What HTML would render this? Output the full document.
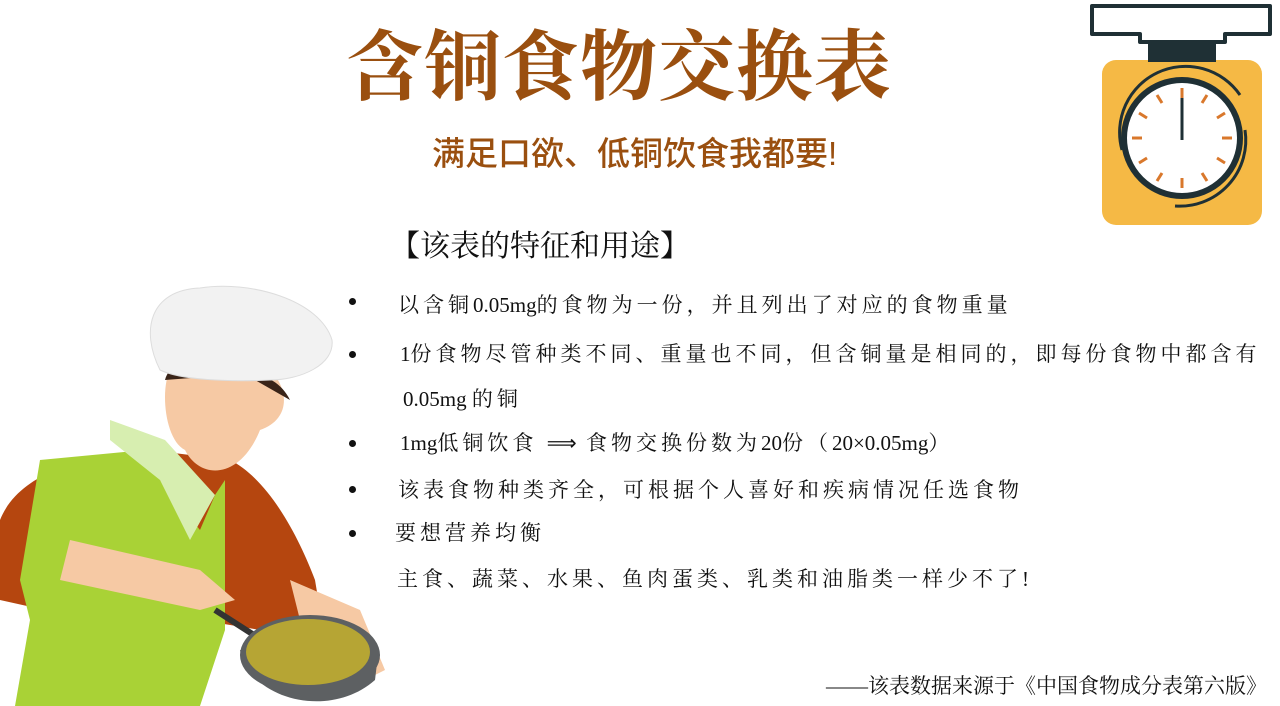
<!DOCTYPE html>
<html><head><meta charset="utf-8">
<style>
html,body{margin:0;padding:0;background:#fff;}
#slide{position:relative;width:1280px;height:706px;overflow:hidden;background:#fff;font-family:"Liberation Serif","Noto Serif CJK SC",serif;}
.abs{position:absolute;white-space:nowrap;}
#title{left:346px;top:18px;font-size:77px;color:#9a4f0f;font-weight:bold;font-family:"Liberation Serif","Noto Serif CJK SC",serif;letter-spacing:1px;line-height:100px;}
#sub{left:432px;top:132px;font-size:33px;color:#9a4f0f;font-weight:500;font-family:"Liberation Sans","Noto Sans CJK SC",sans-serif;line-height:44px;}
#head{left:390px;top:225px;font-size:30px;color:#111;line-height:44px;}
.line{font-size:21px;color:#111;letter-spacing:4px;line-height:30px;}
.l{letter-spacing:0;}
.dot{position:absolute;width:7px;height:7px;border-radius:50%;background:#111;left:349px;}
#foot{left:826px;top:672px;font-size:21px;color:#111;line-height:28px;}
</style></head><body>
<div id="slide">
<div id="title" class="abs">含铜食物交换表</div>
<div id="sub" class="abs">满足口欲、低铜饮食我都要!</div>
<div id="head" class="abs">【该表的特征和用途】</div>

<div class="dot" style="top:298px"></div>
<div class="abs line" style="left:398px;top:290px">以含铜<span class="l">0.05mg</span>的食物为一份，并且列出了对应的食物重量</div>
<div class="dot" style="top:351px"></div>
<div class="abs line" style="left:400px;top:339px"><span class="l">1</span>份食物尽管种类不同、重量也不同，但含铜量是相同的，即每份食物中都含有</div>
<div class="abs line" style="left:403px;top:384px"><span class="l">0.05mg </span>的铜</div>
<div class="dot" style="top:440px"></div>
<div class="abs line" style="left:400px;top:428px"><span class="l">1mg</span>低铜饮食 <span class="l">⟹</span> 食物交换份数为<span class="l">20</span>份（<span class="l">20×0.05mg</span>）</div>
<div class="dot" style="top:486px"></div>
<div class="abs line" style="left:398px;top:475px">该表食物种类齐全，可根据个人喜好和疾病情况任选食物</div>
<div class="dot" style="top:530px"></div>
<div class="abs line" style="left:395px;top:518px">要想营养均衡</div>
<div class="abs line" style="left:397px;top:564px">主食、蔬菜、水果、鱼肉蛋类、乳类和油脂类一样少不了!</div>

<div id="foot" class="abs">——该表数据来源于《中国食物成分表第六版》</div>

<svg class="abs" style="left:1080px;top:0" width="200" height="230">
 <rect x="22" y="60" width="160" height="165" rx="14" fill="#f5b945"/>
 <rect x="68" y="40" width="68" height="22" fill="#1f3035"/>
 <path d="M12,6 H190 V34 H145 V42 H60 V34 H12 Z" fill="#fff" stroke="#1f3035" stroke-width="4" stroke-linejoin="round"/>
 <circle cx="102" cy="138" r="58" fill="#fff" stroke="#1f3035" stroke-width="6"/>
 <path d="M42,150 A66,66 0 0 1 160,95" fill="none" stroke="#1f3035" stroke-width="3"/>
 <path d="M165,130 A66,66 0 0 1 95,206" fill="none" stroke="#1f3035" stroke-width="3"/>
 <line x1="102" y1="98" x2="102" y2="140" stroke="#1f3035" stroke-width="3"/>
 <g stroke="#d9782c" stroke-width="3">
  <line x1="102" y1="88" x2="102" y2="98"/><line x1="102" y1="178" x2="102" y2="188"/>
  <line x1="52" y1="138" x2="62" y2="138"/><line x1="142" y1="138" x2="152" y2="138"/>
  <line x1="127" y1="95" x2="122" y2="103"/><line x1="77" y1="95" x2="82" y2="103"/>
  <line x1="127" y1="181" x2="122" y2="173"/><line x1="77" y1="181" x2="82" y2="173"/>
  <line x1="145" y1="113" x2="137" y2="118"/><line x1="59" y1="113" x2="67" y2="118"/>
  <line x1="145" y1="163" x2="137" y2="158"/><line x1="59" y1="163" x2="67" y2="158"/>
 </g>
</svg>

<svg class="abs" style="left:0;top:280px" width="400" height="426">
 <path d="M0,240 C20,190 90,175 150,170 L230,180 C270,200 300,260 315,300 L320,330 L260,350 L200,340 L45,330 L0,320 Z" fill="#b5460f"/>
 <path d="M40,180 L145,170 L160,200 L200,250 L215,215 L225,200 L225,350 L200,426 L15,426 L30,340 L20,300 Z" fill="#a9d236"/>
 <path d="M110,140 L165,160 L215,215 L190,260 L160,200 L110,160 Z" fill="#d7eeb0"/>
 <path d="M170,90 C180,60 230,60 270,90 C290,110 290,140 260,150 C240,200 200,200 185,170 C165,160 160,110 170,90 Z" fill="#f6c9a4"/>
 <path d="M165,100 C170,80 200,70 220,80 L290,120 C280,100 260,90 230,95 Z" fill="#3a2418"/>
 <path d="M160,90 C140,50 150,10 200,8 C250,0 320,20 332,60 C335,85 300,100 270,100 C230,102 180,100 160,90 Z" fill="#f2f2f2" stroke="#ddd"/>
 <path d="M70,260 L200,290 L235,320 L200,330 L60,300 Z" fill="#f6c9a4"/>
 <path d="M290,300 L360,330 L385,390 L365,400 L300,340 Z" fill="#f6c9a4"/>
 <line x1="215" y1="330" x2="285" y2="375" stroke="#333" stroke-width="6"/>
 <ellipse cx="310" cy="375" rx="70" ry="40" fill="#5d6062"/>
 <path d="M240,370 C250,420 330,440 375,400 L378,375 Z" fill="#5d6062"/>
 <ellipse cx="308" cy="372" rx="62" ry="33" fill="#b6a534"/>
</svg>
</div>
</body></html>
